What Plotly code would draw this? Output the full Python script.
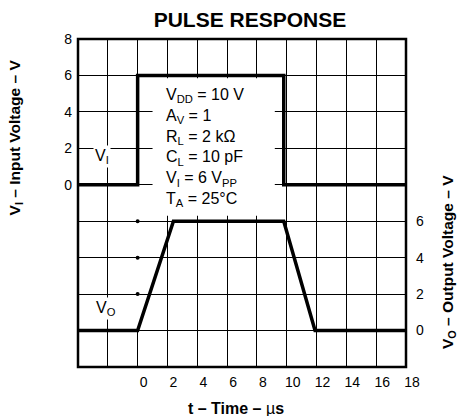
import plotly.graph_objects as go

# ---- data ----
t_in = [-4, 0, 0, 9.8, 9.8, 18]
v_in = [0, 0, 6, 6, 0, 0]
t_out = [-4, 0, 2.4, 9.8, 11.9, 18]
v_out = [0, 0, 6, 6, 0, 0]
dot_t = [0, 0, 0]
dot_v = [2, 4, 6]

x_ticks = list(range(-4, 19, 2))
x_text = ["" if v < 0 else str(v) for v in x_ticks]
yl_ticks = list(range(-10, 9, 2))
yl_text = ["" if v < 0 else str(v) for v in yl_ticks]
yr_ticks = [0, 2, 4, 6]
yr_text = ["0", "2", "4", "6"]

params = ["V<sub>DD</sub> = 10 V", "A<sub>V</sub> = 1", "R<sub>L</sub> = 2 kΩ",
          "C<sub>L</sub> = 10 pF", "V<sub>I</sub> = 6 V<sub>PP</sub>", "T<sub>A</sub> = 25°C"]

FONT = "Liberation Sans, Arial, Helvetica, sans-serif"

fig = go.Figure()
fig.add_trace(go.Scatter(x=t_in, y=v_in, mode="lines", line=dict(color="black", width=3.5),
                         yaxis="y", showlegend=False, hoverinfo="skip"))
fig.add_trace(go.Scatter(x=t_out, y=v_out, mode="lines", line=dict(color="black", width=3.5),
                         yaxis="y2", showlegend=False, hoverinfo="skip"))
fig.add_trace(go.Scatter(x=dot_t, y=dot_v, mode="markers", marker=dict(color="black", size=4),
                         yaxis="y2", showlegend=False, hoverinfo="skip"))

fig.update_layout(
    width=469, height=416,
    margin=dict(l=78, r=63, t=39, b=49),
    paper_bgcolor="white", plot_bgcolor="white",
    font=dict(family=FONT, color="black", size=14),
    title=dict(text="<b>PULSE RESPONSE</b>", x=0.533, xanchor="center",
               y=0.953, yanchor="middle", font=dict(size=21, family=FONT)),
    xaxis=dict(range=[-4, 18], tickvals=x_ticks, ticktext=x_text, showgrid=True,
               gridcolor="black", gridwidth=1, zeroline=False, showline=False, ticks="",
               ticklabelshift=6, ticklabelstandoff=5, tickfont=dict(size=14), automargin=False),
    yaxis=dict(range=[-10, 8], tickvals=yl_ticks, ticktext=yl_text, showgrid=True,
               gridcolor="black", gridwidth=1, zeroline=False, showline=False, ticks="",
               ticklabelstandoff=5, tickfont=dict(size=14), automargin=False),
    yaxis2=dict(range=[-2, 16], tickvals=yr_ticks, ticktext=yr_text, overlaying="y",
                side="right", showgrid=False, zeroline=False, showline=False, ticks="",
                ticklabelstandoff=9, tickfont=dict(size=14), automargin=False),
)

# white covers over grid (between grid and traces)
fig.add_shape(type="rect", xref="x", yref="y", x0=1.0, x1=9.2, y0=-1.7, y1=5.85,
              fillcolor="white", line=dict(width=0), layer="between")
fig.add_shape(type="line", xref="x", yref="y", x0=0, x1=0, y0=0, y1=-8,
              line=dict(color="white", width=3), layer="between")
# border
fig.add_shape(type="rect", xref="paper", yref="paper", x0=0, x1=1, y0=0, y1=1,
              line=dict(color="black", width=2.5), layer="above")

fig.add_annotation(x=1.8, y=5.55, xref="x", yref="y", xanchor="left", yanchor="top",
                   align="left", showarrow=False, text="<br>".join(params),
                   font=dict(size=16))
fig.add_annotation(x=-2.37, y=1.57, xref="x", yref="y", showarrow=False,
                   xanchor="center", yanchor="middle",
                   text="V<sub>I</sub>", bgcolor="white", font=dict(size=16))
fig.add_annotation(x=-2.1, y=1.2, xref="x", yref="y2", showarrow=False,
                   xanchor="center", yanchor="middle",
                   text="V<sub>O</sub>", bgcolor="white", font=dict(size=16))

fig.add_annotation(x=0.482, y=-0.128, xref="paper", yref="paper", showarrow=False,
                   xanchor="center", yanchor="middle",
                   text="<b>t – Time – </b>µ<b>s</b>", font=dict(size=16))
fig.add_annotation(x=-0.192, y=0.70, xref="paper", yref="paper", showarrow=False,
                   xanchor="center", yanchor="middle",
                   textangle=-90, text="<b>V<sub>I</sub> – Input Voltage – V</b>", font=dict(size=15.5))
fig.add_annotation(x=1.128, y=0.32, xref="paper", yref="paper", showarrow=False,
                   xanchor="center", yanchor="middle",
                   textangle=-90, text="<b>V<sub>O</sub> – Output Voltage – V</b>", font=dict(size=15.5))

fig.write_html("out.html", config={"displayModeBar": False},
               post_script="document.body.style.margin='0px';")
